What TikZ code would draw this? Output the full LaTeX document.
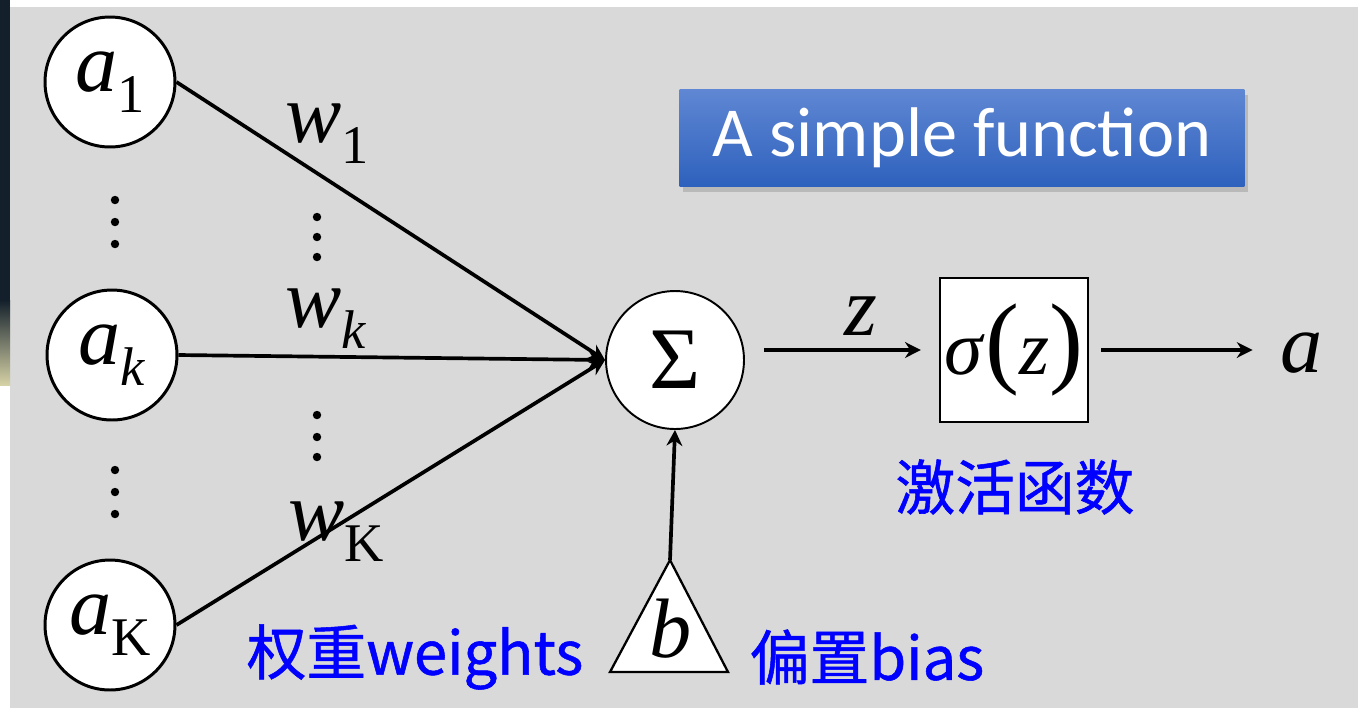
\documentclass[tikz,border=0pt]{standalone}
\usepackage{fontspec}
\setmainfont{Liberation Serif}
\newfontfamily\cjk[FakeBold=0.9]{Noto Sans CJK SC}
\newfontfamily\cali{Carlito}
\usetikzlibrary{arrows.meta, shadows}
\definecolor{slidegray}{HTML}{D9D9D9}
\definecolor{stripdark}{HTML}{13202B}
\definecolor{stripsand}{HTML}{D6D2A6}
\definecolor{titletop}{HTML}{5F87D3}
\definecolor{titlebot}{HTML}{2E61BD}
\definecolor{labelblue}{HTML}{0000FF}
% letter with a lowered index
\newcommand{\idx}[2]{\textit{#1}\raisebox{-12pt}{\fontsize{31}{31}\selectfont #2}}

\begin{document}
\begin{tikzpicture}[x=0.02cm, y=-0.02cm, >={Stealth[length=9pt,width=9pt]},
  unit/.style={circle, draw, line width=1.7pt, fill=white, minimum size=2.6cm,
    inner sep=0pt, font=\fontsize{48}{50}\selectfont},
  sumnode/.style={circle, draw, line width=1.1pt, fill=white, minimum size=2.76cm,
    inner sep=0pt, font=\fontsize{50}{52}\selectfont},
  actbox/.style={draw, line width=1.3pt, fill=white, minimum width=2.96cm,
    minimum height=2.88cm, inner sep=0pt},
  mathlbl/.style={inner sep=0pt, font=\fontsize{48}{50}\selectfont},
  cnlbl/.style={inner sep=0pt, text=labelblue, font=\cjk\fontsize{34}{36}\selectfont},
  title/.style={top color=titletop, bottom color=titlebot, minimum width=11.3cm,
    minimum height=1.94cm, text=white, font=\cali\fontsize{40}{44}\selectfont,
    drop shadow={shadow xshift=2pt, shadow yshift=-3pt, opacity=0.35}},
  wire/.style={line width=2.1pt}]
  \useasboundingbox (0,0) rectangle (1358,708);
  % slide background
  \fill[white] (0,0) rectangle (1358,708);
  \fill[slidegray] (10,7) rectangle (1358,708);
  \fill[stripdark] (0,0) rectangle (10,300);
  \shade[top color=stripdark, bottom color=stripsand] (0,300) rectangle (10,385);

  % heading
  \node[title] (title) at (962,138) {A simple function};

  % inputs
  \node[unit] (a1) at (110,82) {\idx{a}{1}};
  \node[unit] (ak) at (112,355) {\idx{a}{\textit{k}}};
  \node[unit] (aK) at (110,625) {\idx{a}{K}};
  \foreach \y in {200,222,244,470,492,514}
    \fill (115,\y) circle (2.4pt);

  % summation
  \node[sumnode] (sum) at (675,360) {Σ};
  \draw[wire,->] (a1.east) -- (sum.west);
  \draw[wire,->] (ak.east) -- (sum.west);
  \draw[wire,->] (aK.east) -- (sum.west);

  % weights
  \node[mathlbl, anchor=base west] (w1) at (285,142) {\idx{w}{1}};
  \node[mathlbl, anchor=base west] (wk) at (285,327) {\idx{w}{\textit{k}}};
  \node[mathlbl, anchor=base west] (wK) at (288,540) {\idx{w}{K}};
  \foreach \y in {217,237,257,415,437,457}
    \fill (317,\y) circle (2.4pt);

  % bias
  \coordinate (bl) at (610,672);
  \coordinate (br) at (728,672);
  \coordinate (bapex) at (670,560);
  \draw[line width=1.3pt, fill=white] (bl) -- (br) -- (bapex) -- cycle;
  \node[mathlbl, anchor=base] (b) at (671,657) {\textit{b}};
  \draw[wire,->] (bapex) -- (sum.south);

  % activation
  \node[actbox] (act) at (1014,350) {{\fontsize{44}{44}\selectfont\textit{σ}}{\fontsize{58}{58}\selectfont(}{\fontsize{44}{44}\selectfont\textit{z}}{\fontsize{58}{58}\selectfont)}};
  \node[mathlbl, anchor=base] (z) at (861,335) {\textit{z}};
  \draw[wire,->, shorten <=0.38cm, shorten >=0.36cm] (sum.east |- act.west) -- (act.west);
  \node[mathlbl, anchor=base] (out) at (1302,372) {\textit{a}};
  \draw[wire,->, shorten <=0.24cm, shorten >=0.56cm] (act.east) -- (act.east -| out.west);

  % notes
  \node[cnlbl] (wnote) at (415,657) {权重weights};
  \node[cnlbl] (bnote) at (867,657) {偏置bias};
  \node[cnlbl] (fnote) at (1015,487) {激活函数};
\end{tikzpicture}
\end{document}
